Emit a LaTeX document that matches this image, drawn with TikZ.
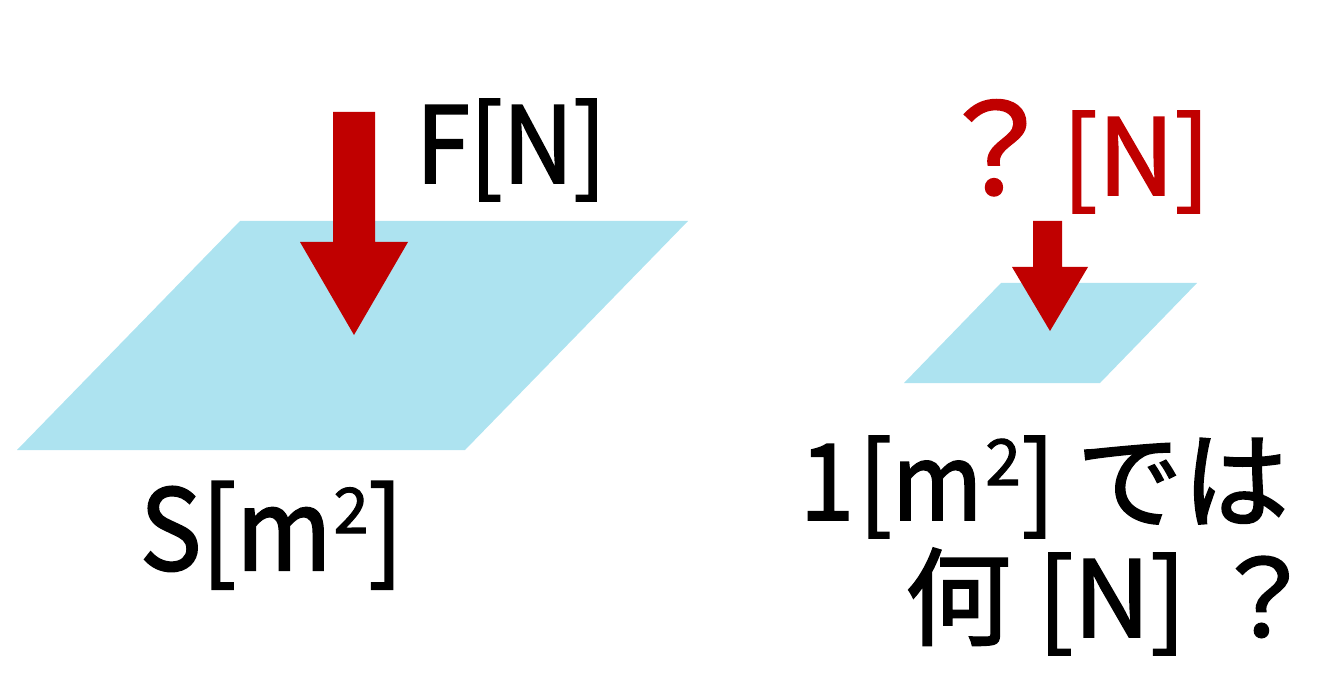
\documentclass[tikz,border=0pt]{standalone}
\usepackage{fontspec}
\usepackage{graphicx}
\setmainfont{Noto Sans CJK JP}[FakeBold=1.8]
\newfontfamily\latin{Noto Sans CJK JP}[FakeBold=1.8, FakeStretch=0.92]
\definecolor{planeblue}{HTML}{ADE3F0}
\definecolor{forcered}{HTML}{C00000}
\newcommand{\supertwo}[2]{\raisebox{#2pt}{\scalebox{#1}{\rmfamily 2}}}
\tikzset{
  plane/.style={fill=planeblue, draw=none},
  forcearrow/.style={fill=forcered, draw=none},
  bigtext/.style={inner sep=0pt, outer sep=0pt, anchor=base west, font=\fontsize{106}{120}\selectfont},
}
\begin{document}
\begin{tikzpicture}[x=1pt,y=-1pt]
\useasboundingbox (0,0) rectangle (1333,676);
% left plane and arrow
\fill[plane] (240,221) -- (688,221) -- (465,450) -- (17,450) -- cycle;
\fill[forcearrow] (333,112) -- (375,112) -- (375,242) -- (408,242) -- (354,335) -- (300,242) -- (333,242) -- cycle;
\node[bigtext] (F) at (416,183) {\latin F[N]};
\node[bigtext, font=\fontsize{112}{120}\selectfont] (S) at (140,570) {\latin S[m\kern2pt\supertwo{0.56}{37}]};
% right plane and arrow
\fill[plane] (1001,283) -- (1197,283) -- (1100,383) -- (904,383) -- cycle;
\fill[forcearrow] (1033,221) -- (1062,221) -- (1062,267) -- (1088,267) -- (1050,331) -- (1012,267) -- (1033,267) -- cycle;
\node[bigtext, text=forcered] (Q) at (933,195) {{\fontsize{125}{125}\selectfont ？}\kern4pt[N]};
\node[bigtext] (L1) at (800,520) {{\latin 1\kern5pt[m\kern3pt\supertwo{0.6}{35}\kern1pt]}\kern22pt では};
\node[bigtext] (L2) at (905,637) {何\ \kern3pt[N] ？};
\end{tikzpicture}
\end{document}
